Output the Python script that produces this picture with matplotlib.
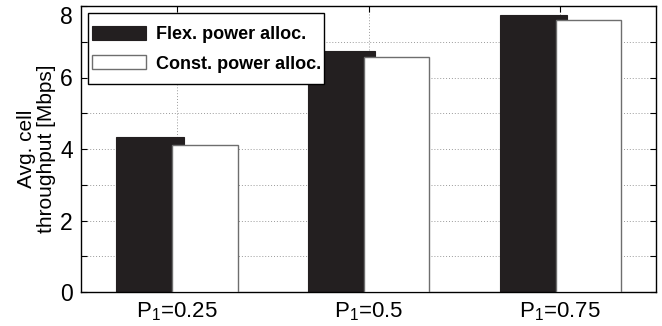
import numpy as np
import matplotlib
matplotlib.use("Agg")
import matplotlib.pyplot as plt
import matplotlib.transforms as mtransforms
from matplotlib.patches import Rectangle

plt.rcParams['font.family'] = ['Liberation Sans', 'DejaVu Sans']
plt.rcParams['mathtext.fontset'] = 'custom'
plt.rcParams['mathtext.rm'] = 'Liberation Sans'

categories = ["P$_\\mathrm{1}$=0.25", "P$_\\mathrm{1}$=0.5", "P$_\\mathrm{1}$=0.75"]
flex_vals = [4.34, 6.74, 7.75]
const_vals = [4.11, 6.57, 7.60]
series_names = ["Flex. power alloc.", "Const. power alloc."]

W, H = 662, 326
fig = plt.figure(figsize=(W/100, H/100), dpi=100)
ax = fig.add_axes([81/W, 1-292/H, 575/W, 286/H])

x = np.arange(1, len(categories)+1)
ax.bar(x - 0.14, flex_vals, width=0.35, color='#231f20', edgecolor='#231f20',
       linewidth=0.8, label=series_names[0], zorder=2)
ax.bar(x + 0.147, const_vals, width=0.34, color='white', edgecolor='#6e6e6e',
       linewidth=1.0, label=series_names[1], zorder=3)

ax.set_xlim(0.5, 3.5)
ax.set_ylim(0, 8)
ax.set_xticks(x)
ax.set_xticklabels(categories, fontsize=16)
ax.set_yticks(range(0, 9))
ax.set_yticklabels([str(v) if v % 2 == 0 else '' for v in range(0, 9)], fontsize=16.5)
ax.tick_params(direction='in', length=4, width=0.8, top=True, right=True, pad=6)
ax.set_ylabel("Avg. cell\nthroughput [Mbps]", fontsize=15, linespacing=1.05, labelpad=3)

# top label "8" sits a little lower, as in the reference
lab8 = ax.get_yticklabels()[-1]
lab8.set_transform(lab8.get_transform() + mtransforms.ScaledTranslation(0, -9/100, fig.dpi_scale_trans))

ax.grid(True, linestyle=(0, (1, 2)), color='#9a9a9a', linewidth=0.7, zorder=0)
ax.set_axisbelow(True)
for s in ax.spines.values():
    s.set_linewidth(1.0)
    s.set_color('black')

# legend frame drawn by hand so padding matches
box = Rectangle((88/W, 1-84/H), 236/W, 71/H, transform=fig.transFigure,
                facecolor='white', edgecolor='black', linewidth=1.0, zorder=4)
fig.add_artist(box)
leg = fig.legend(*ax.get_legend_handles_labels(), loc='upper left',
                 bbox_to_anchor=(92/W, 1-26/H), frameon=False,
                 prop={'weight': 'bold', 'size': 13},
                 handlelength=3.0, handleheight=0.8, borderpad=0, labelspacing=0.68,
                 handletextpad=0.55, borderaxespad=0)
leg.set_zorder(5)

fig.savefig("out.png", dpi=100)
